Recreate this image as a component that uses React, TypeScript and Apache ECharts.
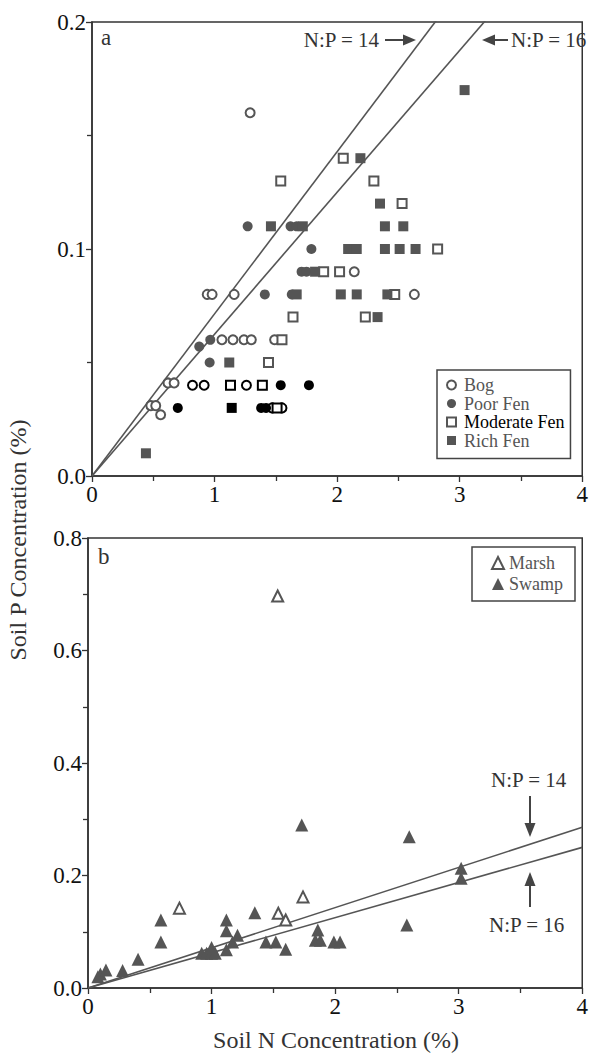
import React, { useEffect, useRef } from "react";
import * as echarts from "echarts";

// ---- data (N %, P %, optional ink flag: 1 = printed in pure black) ----
const xTicks = [0, 1, 2, 3, 4];
const topYTicks = [0, 0.1, 0.2];
const bottomYTicks = [0, 0.2, 0.4, 0.6, 0.8];
const npRatios = [14, 16];

const bog: number[][] = [
  [1.29, 0.16],
  [0.94, 0.08], [0.98, 0.08], [1.16, 0.08], [2.63, 0.08],
  [2.14, 0.09],
  [1.06, 0.06], [1.15, 0.06], [1.24, 0.06], [1.3, 0.06], [1.49, 0.06],
  [0.62, 0.041], [0.67, 0.041], [0.82, 0.04, 1], [0.915, 0.04, 1], [1.26, 0.04, 1],
  [0.48, 0.031], [0.52, 0.031], [1.47, 0.03, 1], [1.55, 0.03, 1],
  [0.56, 0.027],
];
const poorFen: number[][] = [
  [1.27, 0.11], [1.62, 0.11], [1.67, 0.11],
  [1.79, 0.1],
  [1.71, 0.09], [1.75, 0.09],
  [1.41, 0.08], [1.63, 0.08],
  [0.875, 0.057], [0.965, 0.06],
  [0.96, 0.05],
  [1.54, 0.04, 1], [1.77, 0.04, 1],
  [0.7, 0.03, 1], [1.38, 0.03, 1], [1.42, 0.03, 1],
];
const moderateFen: number[][] = [
  [1.54, 0.13], [2.3, 0.13],
  [2.05, 0.14],
  [2.53, 0.12],
  [2.82, 0.1],
  [1.89, 0.09], [2.02, 0.09],
  [2.47, 0.08],
  [1.64, 0.07], [2.23, 0.07],
  [1.55, 0.06],
  [1.44, 0.05],
  [1.13, 0.04, 1], [1.39, 0.04, 1],
  [1.51, 0.03, 1],
];
const richFen: number[][] = [
  [3.04, 0.17],
  [2.19, 0.14],
  [2.35, 0.12],
  [1.46, 0.11], [1.72, 0.11], [2.39, 0.11], [2.54, 0.11],
  [2.09, 0.1], [2.16, 0.1], [2.39, 0.1], [2.51, 0.1], [2.64, 0.1],
  [1.82, 0.09],
  [1.67, 0.08], [2.03, 0.08], [2.16, 0.08], [2.41, 0.08],
  [2.33, 0.07],
  [1.12, 0.05],
  [1.14, 0.03, 1],
  [0.44, 0.01],
];
const marsh: number[][] = [
  [0.74, 0.142], [1.54, 0.133], [1.6, 0.121], [1.74, 0.162], [1.535, 0.697],
];
const swamp: number[][] = [
  [0.08, 0.02], [0.1, 0.025], [0.145, 0.032], [0.28, 0.031], [0.405, 0.051],
  [0.59, 0.121], [0.59, 0.082],
  [0.92, 0.062], [0.96, 0.062], [1.0, 0.062], [1.03, 0.062], [1.0, 0.072],
  [1.12, 0.121], [1.12, 0.102], [1.12, 0.068], [1.17, 0.082], [1.21, 0.094],
  [1.35, 0.134], [1.44, 0.082], [1.52, 0.082], [1.6, 0.069],
  [1.73, 0.29],
  [1.86, 0.103], [1.84, 0.085], [1.88, 0.085], [1.99, 0.082], [2.04, 0.082],
  [2.58, 0.112], [2.6, 0.269],
  [3.02, 0.213], [3.02, 0.195],
];

const SERIF = "'Liberation Serif', 'Times New Roman', serif";
const GREY = "#555";
const INK = "#000";

const toData = (pts: number[][]) =>
  pts.map((p) =>
    p[2] ? { value: [p[0], p[1]], itemStyle: { color: INK } } : [p[0], p[1]]
  );

const ratioLine = (ratio: number, idx: number) => ({
  type: "line",
  xAxisIndex: idx,
  yAxisIndex: idx,
  data: [
    [xTicks[0], 0],
    [xTicks[xTicks.length - 1], xTicks[xTicks.length - 1] / ratio],
  ],
  symbol: "none",
  clip: true,
  silent: true,
  z: 1,
  lineStyle: { color: "#555", width: 1.6 },
});

const scatter = (name: string, pts: number[][], symbol: string, size: number, idx: number) => ({
  type: "scatter",
  name,
  xAxisIndex: idx,
  yAxisIndex: idx,
  symbol,
  symbolSize: size,
  data: toData(pts),
  z: 3,
  itemStyle: { color: GREY, opacity: 1 },
});

const xAxisBase = (gridIndex: number) => ({
  type: "value",
  gridIndex,
  min: xTicks[0],
  max: xTicks[xTicks.length - 1],
  interval: 1,
  splitLine: { show: false },
  axisLine: { onZero: false, lineStyle: { color: "#333", width: 1.5 } },
  axisTick: { inside: false, length: 6, lineStyle: { color: "#333", width: 1.3 } },
  minorTick: { show: true, splitNumber: 2, length: 5, lineStyle: { color: "#333", width: 1.3 } },
  axisLabel: { fontFamily: SERIF, fontSize: 23, color: "#111", margin: 7 },
});

const yAxisBase = (gridIndex: number, ticks: number[], interval: number) => ({
  type: "value",
  gridIndex,
  min: ticks[0],
  max: ticks[ticks.length - 1],
  interval,
  splitLine: { show: false },
  axisLine: { onZero: false, lineStyle: { color: "#333", width: 1.5 } },
  axisTick: { inside: false, length: 6, lineStyle: { color: "#333", width: 1.3 } },
  minorTick: { show: true, splitNumber: 2, length: 5, lineStyle: { color: "#333", width: 1.3 } },
  axisLabel: {
    fontFamily: SERIF,
    fontSize: 23,
    color: "#111",
    margin: 6,
    formatter: (v: number) => v.toFixed(1),
  },
});

const txt = (text: string, x: number, y: number, size: number, align = "left", extra: any = {}) => ({
  type: "text",
  x,
  y,
  ...extra,
  style: {
    text,
    fontFamily: SERIF,
    fontSize: size,
    fill: "#333",
    textAlign: align,
    textVerticalAlign: "middle",
  },
});

const seg = (x1: number, y1: number, x2: number, y2: number) => ({
  type: "line",
  shape: { x1, y1, x2, y2 },
  style: { stroke: "#444", lineWidth: 2 },
});
const head = (pts: number[][]) => ({
  type: "polygon",
  shape: { points: pts },
  style: { fill: "#444" },
});

export default function App() {
  const ref = useRef<HTMLDivElement>(null);
  useEffect(() => {
    if (!ref.current) return;
    const chart = echarts.init(ref.current, undefined, { renderer: "svg" });
    const option: any = {
      animation: false,
      backgroundColor: "#fff",
      grid: [
        { left: 92, top: 22, width: 496, height: 454, show: true, borderColor: "#333", borderWidth: 1.5 },
        { left: 88, top: 538, width: 498, height: 450, show: true, borderColor: "#333", borderWidth: 1.5 },
      ],
      xAxis: [xAxisBase(0), xAxisBase(1)],
      yAxis: [yAxisBase(0, topYTicks, 0.1), yAxisBase(1, bottomYTicks, 0.2)],
      legend: [
        {
          data: [
            { name: "Bog" },
            { name: "Poor Fen" },
            { name: "Moderate Fen", textStyle: { color: "#000" } },
            { name: "Rich Fen" },
          ],
          orient: "vertical",
          left: 437,
          top: 370,
          itemWidth: 9,
          itemHeight: 9,
          itemGap: 0.5,
          padding: [6, 6, 9, 9],
          borderColor: "#444",
          borderWidth: 1.5,
          borderRadius: 0,
          textStyle: { fontFamily: SERIF, fontSize: 18, lineHeight: 18, color: "#555", padding: [0, 0, 0, 3] },
          selectedMode: false,
        },
        {
          data: ["Marsh", "Swamp"],
          orient: "vertical",
          left: 472,
          top: 547,
          itemWidth: 12,
          itemHeight: 12,
          itemGap: 3,
          padding: [7, 12, 8, 19],
          borderColor: "#444",
          borderWidth: 1.5,
          borderRadius: 0,
          textStyle: { fontFamily: SERIF, fontSize: 18, lineHeight: 18, color: "#555" },
          selectedMode: false,
        },
      ],
      series: [
        ratioLine(npRatios[0], 0),
        ratioLine(npRatios[1], 0),
        ratioLine(npRatios[0], 1),
        ratioLine(npRatios[1], 1),
        scatter("Bog", bog, "emptyCircle", 9, 0),
        scatter("Poor Fen", poorFen, "circle", 10, 0),
        scatter("Moderate Fen", moderateFen, "emptyRect", 9, 0),
        scatter("Rich Fen", richFen, "rect", 10, 0),
        scatter("Marsh", marsh, "emptyTriangle", 11, 1),
        scatter("Swamp", swamp, "triangle", 13, 1),
      ],
      graphic: [
        txt("a", 101, 37, 23),
        txt("b", 98, 556, 23),
        txt("N:P = 14", 379, 40, 21, "right"),
        seg(385, 40, 408, 40),
        head([[416, 40], [403, 34.5], [403, 45.5]]),
        head([[482, 40], [495, 34.5], [495, 45.5]]),
        seg(490, 40, 508, 40),
        txt("N:P = 16", 511, 40, 21, "left"),
        txt("N:P = 14", 491, 780, 21, "left"),
        seg(530, 796, 530, 826),
        head([[530, 837], [524.5, 823], [535.5, 823]]),
        head([[530, 872], [524.5, 886], [535.5, 886]]),
        seg(530, 880, 530, 907),
        txt("N:P = 16", 489, 925, 21, "left"),
        txt("Soil N Concentration (%)", 336, 1040, 24, "center"),
        txt("Soil P Concentration (%)", 18, 540, 24, "center", { rotation: Math.PI / 2 }),
      ],
    };
    chart.setOption(option);
    return () => chart.dispose();
  }, []);
  return (
    <div
      ref={ref}
      style={{ position: "fixed", left: 0, top: 0, width: 591, height: 1061 }}
    />
  );
}
